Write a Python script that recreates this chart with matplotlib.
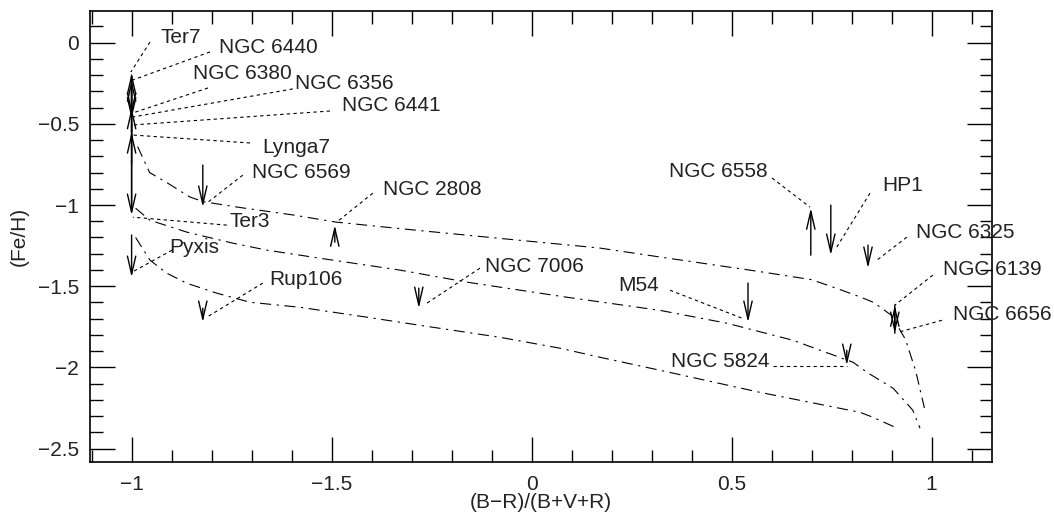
import matplotlib
matplotlib.use("Agg")
import matplotlib.pyplot as plt
from matplotlib.ticker import MultipleLocator

plt.rcParams['font.family'] = ['Liberation Sans', 'DejaVu Sans']

# ---- data ----
names = ['Ter7', 'NGC 6440', 'NGC 6380', 'NGC 6356', 'NGC 6441', 'Lynga7',
         'NGC 6569', 'NGC 2808', 'Ter3', 'Pyxis', 'Rup106', 'NGC 7006',
         'M54', 'NGC 5824', 'NGC 6558', 'HP1', 'NGC 6325', 'NGC 6139', 'NGC 6656']
hb_index = [-1.0, -1.0, -1.0, -1.0, -1.0, -1.0,
            -0.822, -0.492, -1.0, -1.0, -0.822, -0.282,
            0.541, 0.788, 0.698, 0.748, 0.841, 0.908, 0.908]
feh_from = [-0.55, -0.60, -0.20, -0.75, -0.30, -1.00,
            -0.754, -1.229, -0.50, -1.185, -1.636, -1.512,
            -1.481, -1.895, -1.309, -1.001, -1.247, -1.79, -1.617]
feh_to = [-0.187, -0.23, -0.44, -0.40, -0.47, -0.55,
          -1.013, -1.124, -1.063, -1.445, -1.722, -1.636,
          -1.722, -1.987, -1.019, -1.309, -1.389, -1.617, -1.79]

# label anchor (left, baseline) and leader lines
label_x = [-0.927, -0.782, -0.847, -0.592, -0.474, -0.674,
           -0.699, -0.372, -0.754, -0.907, -0.656, -0.117,
           0.216, 0.348, 0.343, 0.876, 0.961, 1.028, 1.053]
label_y = [-0.002, -0.064, -0.224, -0.285, -0.421, -0.680,
           -0.834, -0.939, -1.136, -1.297, -1.494, -1.414,
           -1.531, -1.999, -0.828, -0.914, -1.204, -1.432, -1.709]
lead_x0 = [-0.954, -0.804, -0.809, -0.597, -0.504, -0.704,
           -0.722, -0.397, -0.762, -0.899, -0.672, -0.129,
           0.346, 0.604, 0.601, 0.846, 0.938, 1.003, 1.026]
lead_y0 = [0.004, -0.057, -0.279, -0.285, -0.421, -0.618,
           -0.816, -0.927, -1.124, -1.278, -1.481, -1.389,
           -1.525, -1.993, -0.834, -0.927, -1.198, -1.432, -1.710]
lead_x1 = [-1.002, -0.997, -0.997, -0.997, -0.997, -0.997,
           -0.812, -0.487, -0.997, -0.999, -0.812, -0.262,
           0.526, 0.788, 0.696, 0.763, 0.863, 0.908, 0.916]
lead_y1 = [-0.181, -0.230, -0.433, -0.458, -0.507, -0.569,
           -0.988, -1.105, -1.075, -1.414, -1.691, -1.605,
           -1.697, -1.993, -1.013, -1.259, -1.340, -1.617, -1.784]

# model curves
curveA_x = [-0.985, -0.955, -0.91, -0.855, -0.82, -0.73, -0.60, -0.49, -0.29, -0.04,
            0.17, 0.32, 0.57, 0.70, 0.77, 0.82, 0.855, 0.90, 0.935, 0.96, 0.982]
curveA_y = [-0.64, -0.80, -0.865, -0.95, -0.98, -1.015, -1.06, -1.105, -1.155, -1.215,
            -1.265, -1.32, -1.41, -1.46, -1.52, -1.565, -1.60, -1.68, -1.83, -2.02, -2.25]
curveB_x = [-0.99, -0.954, -0.862, -0.747, -0.662, -0.496, -0.329, -0.162, -0.079,
            0.088, 0.321, 0.488, 0.653, 0.804, 0.838, 0.904, 0.953, 0.971]
curveB_y = [-1.02, -1.094, -1.167, -1.235, -1.278, -1.340, -1.401, -1.475, -1.506,
            -1.568, -1.649, -1.728, -1.833, -1.969, -2.030, -2.129, -2.264, -2.375]
curveC_x = [-0.99, -0.954, -0.912, -0.862, -0.787, -0.704, -0.579, -0.412, -0.247,
            -0.079, 0.071, 0.171, 0.321, 0.571, 0.821, 0.854, 0.914]
curveC_y = [-1.20, -1.340, -1.420, -1.482, -1.543, -1.599, -1.630, -1.691, -1.753,
            -1.815, -1.882, -1.938, -2.018, -2.154, -2.277, -2.308, -2.375]

xticks = [-1, -0.5, 0, 0.5, 1]
xticklabels = ['\u22121', '\u22121.5', '0', '0.5', '1']
yticks = [0, -0.5, -1, -1.5, -2, -2.5]
yticklabels = ['0', '\u22120.5', '\u22121', '\u22121.5', '\u22122', '\u22122.5']

# ---- figure ----
fig = plt.figure(figsize=(10.54, 5.15), dpi=100)
ax = fig.add_axes([90/1054, 53/515, 902/1054, 451/515])
ax.set_xlim(-1.104, 1.151)
ax.set_ylim(-2.583, 0.195)

dash = (0, (10, 5, 2, 5))
for cx, cy in [(curveA_x, curveA_y), (curveB_x, curveB_y), (curveC_x, curveC_y)]:
    ax.plot(cx, cy, color='black', lw=0.8, linestyle=dash)

for i in range(len(names)):
    ax.annotate('', xy=(hb_index[i], feh_to[i]), xytext=(hb_index[i], feh_from[i]),
                arrowprops=dict(arrowstyle='->,head_length=1.3,head_width=0.3',
                                color='black', lw=1.0, shrinkA=0, shrinkB=0,
                                mutation_scale=10))
    ax.plot([lead_x0[i], lead_x1[i]], [lead_y0[i], lead_y1[i]], color='black',
            lw=0.8, linestyle=(0, (3, 3)))
    ax.text(label_x[i], label_y[i], names[i], fontsize=15, ha='left', va='baseline',
            color='#222222', clip_on=False)

ax.set_xticks(xticks)
ax.set_xticklabels(xticklabels)
ax.set_yticks(yticks)
ax.set_yticklabels(yticklabels)
ax.xaxis.set_minor_locator(MultipleLocator(0.1))
ax.yaxis.set_minor_locator(MultipleLocator(0.1))
ax.tick_params(which='both', direction='in', top=True, right=True, width=1.0)
ax.tick_params(which='major', length=18, labelsize=15, pad=8, labelcolor='#222222')
ax.tick_params(axis='x', which='major', pad=9)
ax.tick_params(which='minor', length=9)
for s in ax.spines.values():
    s.set_linewidth(1.2)

ax.set_xlabel('(B\u2212R)/(B+V+R)', fontsize=15, labelpad=0, color='#222222')
ax.set_ylabel('(Fe/H)', fontsize=15, labelpad=6, color='#222222')

fig.savefig('out.png', dpi=100)
